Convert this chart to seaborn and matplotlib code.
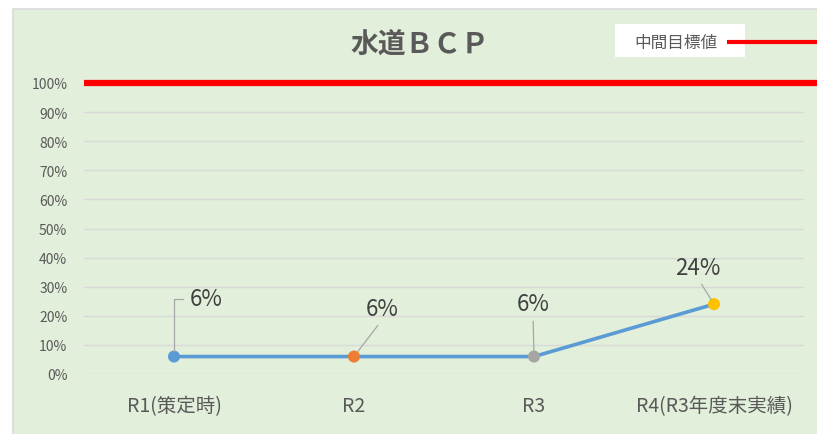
import matplotlib
matplotlib.use('Agg')
import matplotlib.pyplot as plt
import seaborn as sns
from matplotlib.patches import Rectangle
from matplotlib.lines import Line2D
from matplotlib.ticker import PercentFormatter

# data
periods = ['R1(策定時)', 'R2', 'R3', 'R4(R3年度末実績)']
values = [0.06, 0.06, 0.06, 0.24]
value_labels = ['6%', '6%', '6%', '24%']
target = 1.0
target_label = '中間目標値'
y_ticks = [0, 0.1, 0.2, 0.3, 0.4, 0.5, 0.6, 0.7, 0.8, 0.9, 1.0]

point_colors = ['#5B9BD5', '#ED7D31', '#A5A5A5', '#FFC000']
text_gray = '#595959'

sns.set_theme(style='white')
plt.rcParams['font.family'] = ['Noto Sans CJK JP', 'DejaVu Sans']

fig = plt.figure(figsize=(8.17, 4.35), dpi=100)
fig.patch.set_facecolor('white')
# chart area background
fig.patches.append(Rectangle((13 / 817, -0.01), 1.0, 0.987, transform=fig.transFigure,
                             facecolor='#E2EFDA', edgecolor='#D9D9D9', lw=1.2, zorder=-5))

ax = fig.add_axes([84 / 817, 60 / 435, 720 / 817, 291 / 435])
ax.set_facecolor('none')
ax.set_zorder(2)

sns.lineplot(x=periods, y=values, sort=False, color='#5B9BD5', linewidth=2.6, ax=ax, zorder=3)
sns.scatterplot(x=periods, y=values, hue=periods, palette=point_colors, s=75,
                edgecolor='none', legend=False, ax=ax, zorder=4)

# target line (extends past the plot like the original)
ax.plot([-0.5, 3.58], [target, target], color='#FF0000', lw=4.5, clip_on=False,
        solid_capstyle='butt', zorder=5)

ax.set_xlim(-0.5, 3.5)
ax.set_ylim(0, 1.0)
ax.set_yticks(y_ticks)
ax.yaxis.set_major_formatter(PercentFormatter(1.0, decimals=0))
ax.grid(axis='y', color='#D9D9D9', lw=1)
ax.grid(axis='x', visible=False)
for s in ax.spines.values():
    s.set_visible(False)
ax.tick_params(axis='y', length=0, pad=12, labelsize=10, labelcolor=text_gray)
ax.tick_params(axis='x', length=0, pad=15, labelsize=14, labelcolor=text_gray)
ax.set_xlabel('')
ax.set_ylabel('')

# data labels with leader lines
offsets = [(16, 58), (28, 48), (-1, 53), (-16, 37)]
for i, (lab, off) in enumerate(zip(value_labels, offsets)):
    if i == 0:
        ap = dict(arrowstyle='-', color='#A6A6A6', lw=0.9, shrinkA=3, shrinkB=4,
                  relpos=(0, 0.5), connectionstyle='angle,angleA=180,angleB=90,rad=0')
        ha = 'left'
    else:
        ap = dict(arrowstyle='-', color='#A6A6A6', lw=0.9, shrinkA=2, shrinkB=4,
                  relpos=(0.5, 0))
        ha = 'center'
    ax.annotate(lab, xy=(i, values[i]), xytext=off, textcoords='offset pixels',
                ha=ha, va='center', fontsize=16, color='#404040',
                arrowprops=ap, zorder=6)

# title
fig.text(420 / 817, 1 - 46 / 435, '水道ＢＣＰ', ha='center', va='center',
         fontsize=20, fontweight='bold', color=text_gray)

# legend (text box with line to the right)
fig.patches.append(Rectangle((615 / 817, 1 - 58 / 435), 130 / 817, 33 / 435,
                             transform=fig.transFigure, facecolor='white',
                             edgecolor='none', zorder=1))
fig.text(676 / 817, 1 - 43 / 435, target_label, ha='center', va='center',
         fontsize=12, color=text_gray, zorder=2)
fig.add_artist(Line2D([727 / 817, 1.0], [1 - 43 / 435, 1 - 43 / 435],
                      transform=fig.transFigure, color='#FF0000', lw=3,
                      solid_capstyle='butt'))

fig.savefig('out.png', dpi=100)
